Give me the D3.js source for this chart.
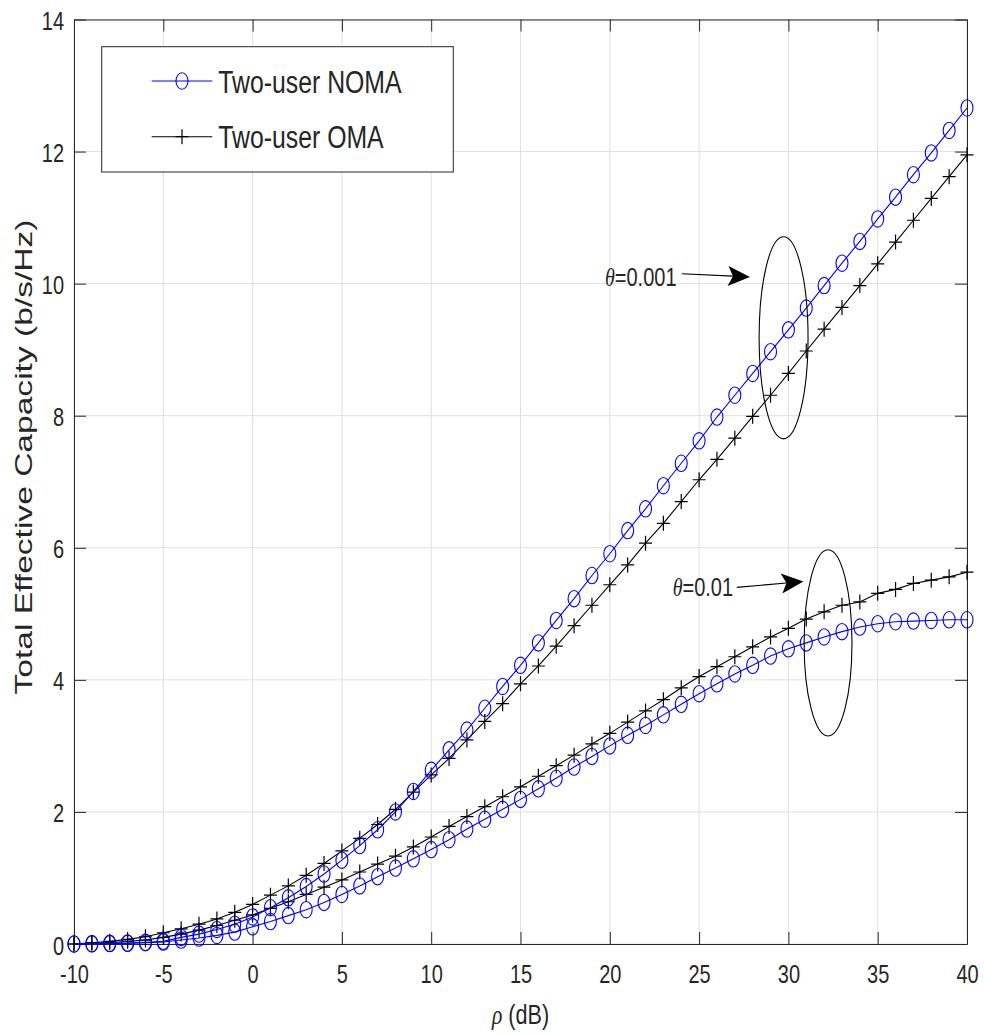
<!DOCTYPE html>
<html>
<head>
<meta charset="utf-8">
<script src="https://cdn.jsdelivr.net/npm/d3@7"></script>
<style>
body { margin: 0; background: #fff; }
text { font-family: "Liberation Sans", Arial, Helvetica, sans-serif; fill: #262626; }
</style>
</head>
<body>
<svg width="984" height="1035"></svg>
<script>
// rho in dB
var rho = [-10, -9, -8, -7, -6, -5, -4, -3, -2, -1, 0, 1, 2, 3, 4, 5, 6, 7, 8, 9, 10,
           11, 12, 13, 14, 15, 16, 17, 18, 19, 20, 21, 22, 23, 24, 25, 26, 27, 28, 29, 30,
           31, 32, 33, 34, 35, 36, 37, 38, 39, 40];

// theta = 0.001
var nomaHigh = [0, 0.005, 0.01, 0.015, 0.025, 0.04, 0.1, 0.15, 0.22, 0.3, 0.41, 0.55, 0.70, 0.87, 1.06, 1.27, 1.49, 1.73, 2.00, 2.31, 2.63,
                2.94, 3.24, 3.57, 3.90, 4.22, 4.56, 4.90, 5.23, 5.58, 5.91, 6.26, 6.59, 6.94, 7.28, 7.62, 7.98, 8.31, 8.64, 8.97, 9.30,
                9.63, 9.97, 10.31, 10.64, 10.98, 11.31, 11.65, 11.98, 12.32, 12.66];
var omaHigh = [0, 0.02, 0.04, 0.07, 0.11, 0.17, 0.23, 0.30, 0.38, 0.48, 0.60, 0.74, 0.88, 1.04, 1.22, 1.41, 1.60, 1.81, 2.04, 2.30, 2.56,
               2.81, 3.09, 3.37, 3.64, 3.94, 4.21, 4.51, 4.82, 5.13, 5.44, 5.74, 6.07, 6.37, 6.70, 7.03, 7.34, 7.66, 7.99, 8.31, 8.64,
               8.98, 9.31, 9.64, 9.97, 10.30, 10.63, 10.96, 11.29, 11.62, 11.95];

// theta = 0.01
var nomaLow = [0, 0.003, 0.006, 0.01, 0.02, 0.03, 0.06, 0.09, 0.13, 0.18, 0.26, 0.34, 0.43, 0.52, 0.63, 0.75, 0.88, 1.02, 1.15, 1.29, 1.43,
               1.58, 1.74, 1.89, 2.04, 2.19, 2.35, 2.51, 2.68, 2.84, 3.00, 3.16, 3.31, 3.47, 3.63, 3.79, 3.94, 4.09, 4.22, 4.36, 4.47,
               4.56, 4.65, 4.73, 4.80, 4.85, 4.88, 4.89, 4.90, 4.91, 4.91];
var omaLow = [0, 0.01, 0.02, 0.04, 0.06, 0.10, 0.15, 0.21, 0.28, 0.36, 0.44, 0.54, 0.64, 0.75, 0.86, 0.97, 1.09, 1.21, 1.33, 1.47, 1.62,
              1.78, 1.93, 2.08, 2.23, 2.38, 2.54, 2.70, 2.86, 3.03, 3.19, 3.36, 3.53, 3.70, 3.88, 4.05, 4.20, 4.35, 4.50, 4.65, 4.78,
              4.92, 5.03, 5.13, 5.18, 5.31, 5.37, 5.46, 5.51, 5.56, 5.63];

var xTicks = [-10, -5, 0, 5, 10, 15, 20, 25, 30, 35, 40];
var yTicks = [0, 2, 4, 6, 8, 10, 12, 14];
var legendLabels = ["Two-user NOMA", "Two-user OMA"];
var thetaLabels = ["0.001", "0.01"];

// annotation anchors, in data units
var rings = [{cx: 29.73, cy: 9.18, rx: 1.37, ry: 1.53}, {cx: 32.22, cy: 4.56, rx: 1.34, ry: 1.41}];
var arrows = [{x1: 24.03, y1: 10.15, x2: 27.85, y2: 10.10}, {x1: 27.11, y1: 5.40, x2: 30.84, y2: 5.49}];
var notes = [{x: 19.73, y: 9.96}, {x: 23.52, y: 5.27}];

var svg = d3.select("svg"),
    pLeft = 74, pRight = 967, pTop = 19.5, pBottom = 944,
    axisColor = "#262626",
    blue = "#0000ff";

var x = d3.scaleLinear().domain([-10, 40]).range([pLeft, pRight]);
var y = d3.scaleLinear().domain([0, 14]).range([pBottom, pTop]);

svg.append("rect").attr("width", 984).attr("height", 1035).attr("fill", "#fff");

// grid
var grid = svg.append("g").attr("class", "grid");
grid.selectAll("line.gx").data(xTicks).enter().append("line")
    .attr("x1", d => x(d)).attr("x2", d => x(d))
    .attr("y1", pTop).attr("y2", pBottom)
    .attr("stroke", "#dfdfdf").attr("stroke-width", 1);
grid.selectAll("line.gy").data(yTicks).enter().append("line")
    .attr("y1", d => y(d)).attr("y2", d => y(d))
    .attr("x1", pLeft).attr("x2", pRight)
    .attr("stroke", "#dfdfdf").attr("stroke-width", 1);

// axes, ticks inward on all four sides
var xAxis = svg.append("g").attr("transform", "translate(0," + pBottom + ")")
    .call(d3.axisBottom(x).tickValues(xTicks).tickSizeInner(-12).tickSizeOuter(0).tickPadding(21));
var yAxis = svg.append("g").attr("transform", "translate(" + pLeft + ",0)")
    .call(d3.axisLeft(y).tickValues(yTicks).tickSizeInner(-12).tickSizeOuter(0).tickPadding(12.5));
svg.append("g").attr("transform", "translate(0," + pTop + ")")
    .call(d3.axisTop(x).tickValues(xTicks).tickSizeInner(-12).tickSizeOuter(0).tickFormat(""));
svg.append("g").attr("transform", "translate(" + pRight + ",0)")
    .call(d3.axisRight(y).tickValues(yTicks).tickSizeInner(-12).tickSizeOuter(0).tickFormat(""));

svg.selectAll(".domain").attr("stroke", axisColor);
svg.selectAll(".tick line").attr("stroke", axisColor);
svg.selectAll(".tick text")
    .attr("fill", axisColor)
    .style("font-family", "'Liberation Sans', Arial, sans-serif")
    .style("font-size", "25px")
    .attr("transform", "scale(0.8,1)");
xAxis.selectAll(".tick text").text(d => d < 0 ? "-" + Math.abs(d) : d);
yAxis.selectAll(".tick text").attr("dy", "0.4em");

// series
var line = d3.line()
    .x(function(d) { return x(d[0]); })
    .y(function(d) { return y(d[1]); });

var series = [
    {vals: omaHigh, color: "#000", mark: "plus"},
    {vals: omaLow, color: "#000", mark: "plus"},
    {vals: nomaHigh, color: blue, mark: "circle"},
    {vals: nomaLow, color: blue, mark: "circle"}
];

var plusPath = "M-6.5,0H6.5M0,-7.5V7.5";

series.forEach(function(s) {
    var pts = rho.map(function(r, i) { return [r, s.vals[i]]; });
    var g = svg.append("g");
    g.append("path").datum(pts)
        .attr("d", line)
        .attr("fill", "none")
        .attr("stroke", s.color)
        .attr("stroke-width", 1.1);
    if (s.mark == "circle") {
        g.selectAll("ellipse").data(pts).enter().append("ellipse")
            .attr("cx", d => x(d[0])).attr("cy", d => y(d[1]))
            .attr("rx", 6).attr("ry", 8.2)
            .attr("fill", "none").attr("stroke", s.color).attr("stroke-width", 1.1);
    } else {
        g.selectAll("path.m").data(pts).enter().append("path")
            .attr("class", "m")
            .attr("transform", d => "translate(" + x(d[0]) + "," + y(d[1]) + ")")
            .attr("d", plusPath)
            .attr("fill", "none").attr("stroke", s.color).attr("stroke-width", 1.2);
    }
});

// annotations
var ann = svg.append("g");
ann.selectAll("ellipse").data(rings).enter().append("ellipse")
    .attr("cx", d => x(d.cx)).attr("cy", d => y(d.cy))
    .attr("rx", d => x(d.cx + d.rx) - x(d.cx))
    .attr("ry", d => y(d.cy) - y(d.cy + d.ry))
    .attr("fill", "none").attr("stroke", "#000").attr("stroke-width", 1.1);

arrows.forEach(function(a) {
    var x1 = x(a.x1), y1 = y(a.y1), x2 = x(a.x2), y2 = y(a.y2);
    var ang = Math.atan2(y2 - y1, x2 - x1),
        len = 22, hw = 10, notch = 5;
    var ca = Math.cos(ang), sa = Math.sin(ang);
    function pt(u, v) { return [x2 - u * ca - v * sa, y2 - u * sa + v * ca]; }
    ann.append("line")
        .attr("x1", x1).attr("y1", y1)
        .attr("x2", pt(len - notch, 0)[0]).attr("y2", pt(len - notch, 0)[1])
        .attr("stroke", "#000").attr("stroke-width", 1.2);
    var head = [pt(0, 0), pt(len, -hw), pt(len - notch, 0), pt(len, hw)];
    ann.append("path")
        .attr("d", "M" + head.join("L") + "Z")
        .attr("fill", "#000");
});

notes.forEach(function(n, i) {
    var t = ann.append("text")
        .attr("transform", "translate(" + x(n.x) + "," + y(n.y) + ") scale(0.8,1)")
        .style("font-size", "25px")
        .attr("fill", "#000");
    t.append("tspan")
        .style("font-family", "'Liberation Serif', 'Times New Roman', serif")
        .style("font-style", "italic")
        .text("\u03b8");
    t.append("tspan").text("=" + thetaLabels[i]);
});

// axis titles
var xl = svg.append("text")
    .attr("transform", "translate(" + ((pLeft + pRight) / 2) + ",1024) scale(0.8,1)")
    .attr("text-anchor", "middle")
    .style("font-size", "27px");
xl.append("tspan")
    .style("font-family", "'Liberation Serif', 'Times New Roman', serif")
    .style("font-style", "italic")
    .text("\u03c1");
xl.append("tspan").text(" (dB)");

svg.append("text")
    .attr("transform", "translate(32,457) rotate(-90)")
    .attr("text-anchor", "middle")
    .attr("textLength", 475)
    .attr("lengthAdjust", "spacingAndGlyphs")
    .style("font-size", "24px")
    .text("Total Effective Capacity (b/s/Hz)");

// legend
var leg = svg.append("g");
leg.append("rect")
    .attr("x", 101.7).attr("y", 46.7)
    .attr("width", 351.6).attr("height", 125.3)
    .attr("fill", "#fff").attr("stroke", axisColor).attr("stroke-width", 1);

legendLabels.forEach(function(lab, i) {
    var ly = 81 + i * 55.7, col = i == 0 ? blue : "#000";
    leg.append("line")
        .attr("x1", 151.7).attr("x2", 212.3)
        .attr("y1", ly).attr("y2", ly)
        .attr("stroke", col).attr("stroke-width", 1.1);
    if (i == 0) {
        leg.append("ellipse").attr("cx", 182).attr("cy", ly)
            .attr("rx", 6).attr("ry", 8.2)
            .attr("fill", "none").attr("stroke", col).attr("stroke-width", 1.1);
    } else {
        leg.append("path")
            .attr("transform", "translate(182," + ly + ")")
            .attr("d", plusPath)
            .attr("fill", "none").attr("stroke", col).attr("stroke-width", 1.2);
    }
    leg.append("text")
        .attr("transform", "translate(218.3," + (ly + 11.5) + ") scale(0.8,1)")
        .style("font-size", "31px")
        .attr("fill", "#000")
        .text(lab);
});
</script>
</body>
</html>
